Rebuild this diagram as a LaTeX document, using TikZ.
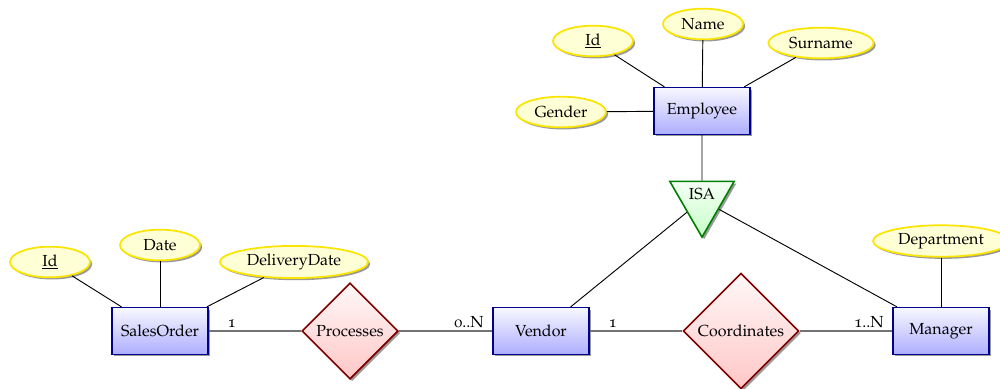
\documentclass[tikz,border=0pt]{standalone}
\usepackage[T1]{fontenc}
\usepackage[osf]{mathpazo}
\usetikzlibrary{shapes.geometric,shadows}

\definecolor{attrborder}{RGB}{250,228,0}
\definecolor{attrfill}{RGB}{255,255,214}

\tikzset{
  txt/.style={font=\fontsize{12}{14}\selectfont},
  shadowed/.style={drop shadow={shadow xshift=1.6pt, shadow yshift=-1.6pt, opacity=0.4, fill=black}},
  entity/.style={txt, shadowed, rectangle, draw=blue!55!black, line width=1.2pt,
    top color=blue!3, bottom color=blue!32, minimum width=72pt, minimum height=35pt, inner sep=3pt},
  relation/.style={txt, shadowed, diamond, aspect=1, draw=red!50!black, line width=1.2pt,
    top color=red!3, bottom color=red!22, inner sep=3.3pt},
  isabox/.style={txt, shadowed, regular polygon, regular polygon sides=3, shape border rotate=180,
    draw=green!50!black, line width=1.2pt, top color=green!4, bottom color=green!22,
    inner sep=0pt, minimum size=54.6pt},
  attr/.style={txt, shadowed, ellipse, draw=attrborder, line width=1.3pt, fill=attrfill,
    inner xsep=4pt, inner ysep=2.5pt, minimum width=60pt, minimum height=23pt},
  attrline/.style={black, line width=0.7pt},
  relline/.style={black!55, line width=1pt},
  card/.style={txt, black, inner sep=2pt},
}

\begin{document}
\begin{tikzpicture}[x=0.75pt, y=-0.75pt]
\useasboundingbox (0,0) rectangle (1000,389);

% entities
\node[entity] (employee) at (702,111) {Employee};
\node[entity] (salesorder) at (160,331) {SalesOrder};
\node[entity] (vendor) at (541,331) {Vendor};
\node[entity] (manager) at (941,331) {Manager};

% relationships and generalisation
\node[relation] (processes) at (350,331) {Processes};
\node[relation] (coordinates) at (741,331) {Coordinates};
\node[isabox] (isa) at (702,200) {\raisebox{9pt}{ISA}};

% attributes
\node[attr] (empid) at (593,41) {\underline{Id}};
\node[attr] (name) at (703,24) {Name};
\node[attr] (surname) at (821,43) {Surname};
\node[attr] (gender) at (561,112) {Gender};
\node[attr] (soid) at (50,262) {\underline{Id}};
\node[attr] (date) at (160,245) {Date};
\node[attr] (delivery) at (294,262) {DeliveryDate};
\node[attr] (department) at (941,241) {Department};

% attribute links
\draw[attrline] (employee) -- (empid);
\draw[attrline] (employee) -- (name);
\draw[attrline] (employee) -- (surname);
\draw[attrline] (employee) -- (gender);
\draw[attrline] (salesorder) -- (soid);
\draw[attrline] (salesorder) -- (date);
\draw[attrline] (salesorder) -- (delivery);
\draw[attrline] (manager) -- (department);

% generalisation links
\draw[attrline] (employee) -- (isa);
\draw[attrline] (isa) -- (vendor);
\draw[attrline] (isa) -- (manager);

% relationship links with cardinalities
\draw[relline] (salesorder) -- node[card, pos=.25, above] {1} (processes);
\draw[relline] (processes) -- node[card, pos=.75, above] {0..N} (vendor);
\draw[relline] (vendor) -- node[card, pos=.25, above] {1} (coordinates);
\draw[relline] (coordinates) -- node[card, pos=.75, above] {1..N} (manager);
\end{tikzpicture}
\end{document}
